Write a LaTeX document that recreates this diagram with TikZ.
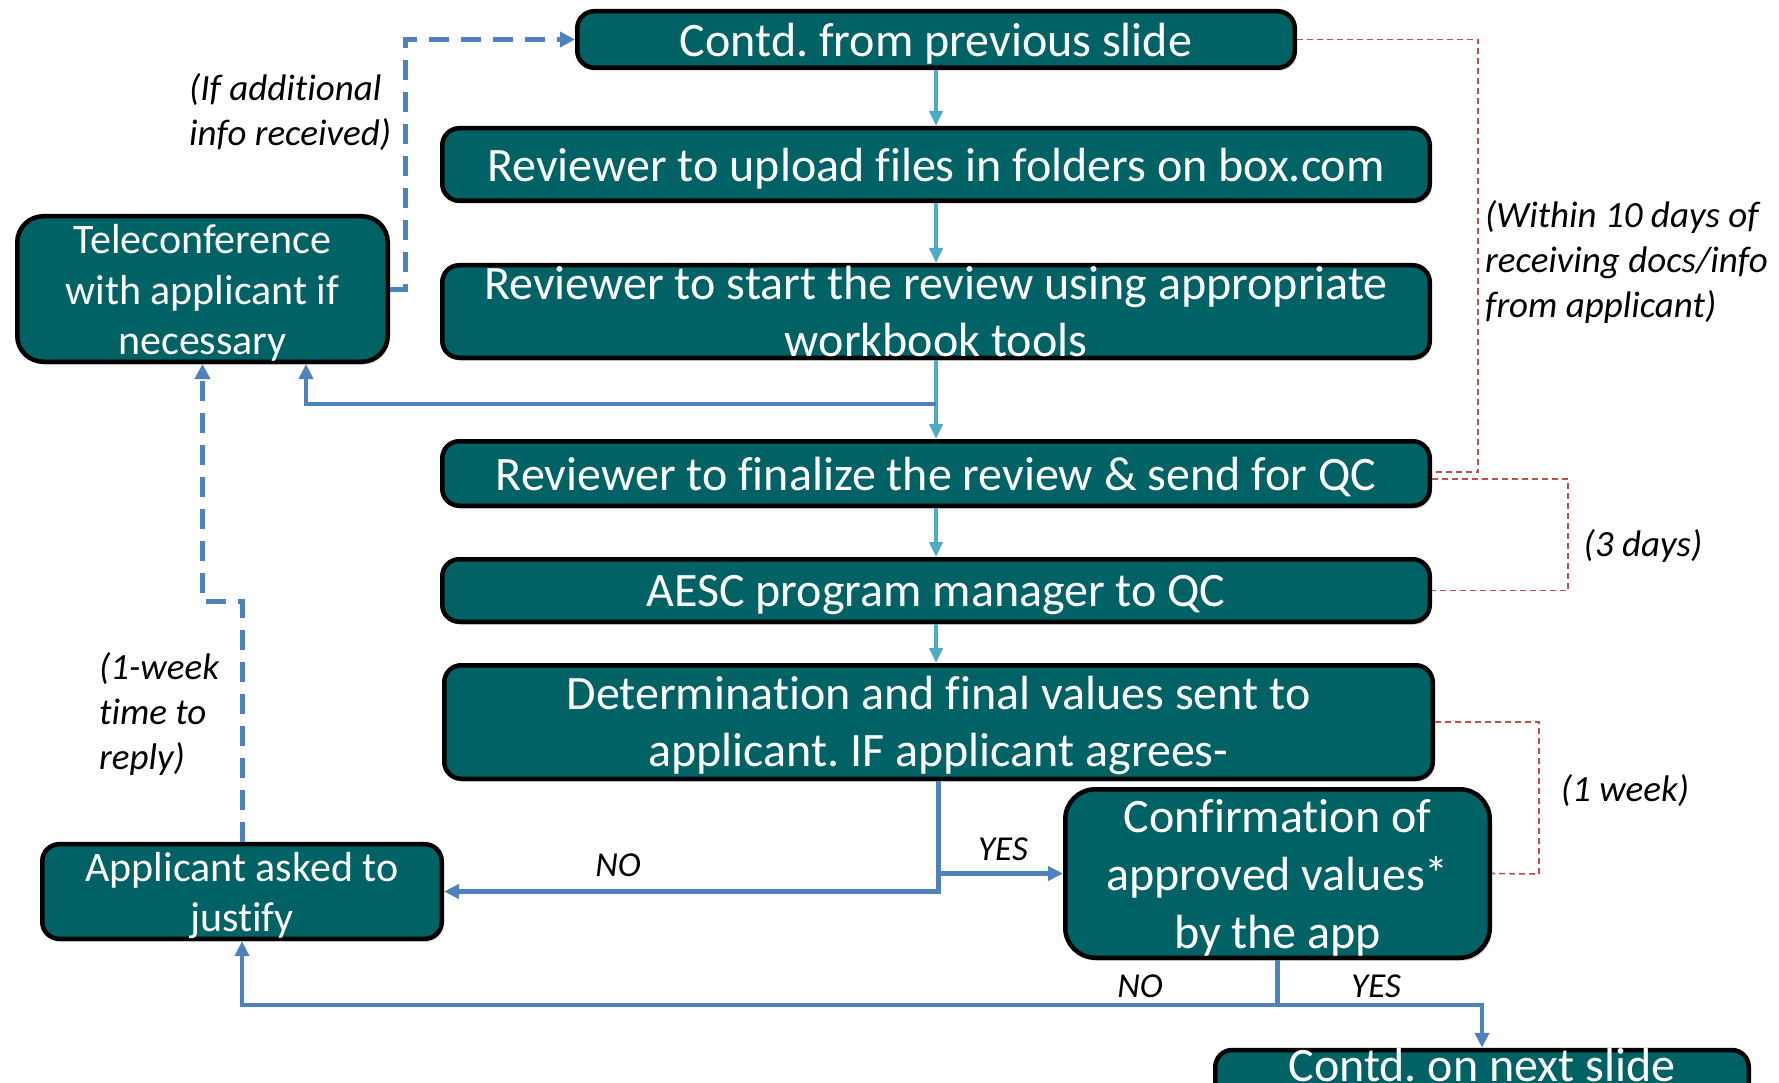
\documentclass[tikz,border=0pt]{standalone}
\usepackage{fontspec}
\setmainfont{Carlito}[Ligatures={NoCommon}]
\usetikzlibrary{arrows.meta,shadows}

\definecolor{boxteal}{RGB}{0,98,101}
\definecolor{flowteal}{RGB}{75,172,198}
\definecolor{flowblue}{RGB}{79,129,189}
\definecolor{noteRed}{RGB}{192,80,77}

% invisible struts that give the first line of a box a fixed height
\newcommand\lineBig{\rule{0pt}{41pt}}
\newcommand\lineMid{\rule{0pt}{37pt}}

\begin{document}
\frenchspacing
\begin{tikzpicture}[x=1pt,y=-1pt,
  stepbox/.style={draw=black, line width=4.5pt, fill=boxteal, rounded corners=17pt,
    text=white, align=center, inner sep=0pt,
    font=\fontsize{48}{57}\selectfont,
    drop shadow={shadow xshift=2pt,shadow yshift=-3pt,opacity=.3}},
  sidebox/.style={stepbox, rounded corners=26pt, font=\fontsize{42}{50.5}\selectfont},
  boxtext/.style={text=white, inner sep=0pt, font=\fontsize{48}{57}\selectfont},
  tealarrow/.style={draw=flowteal, line width=3.8pt, -{Triangle[length=15pt,width=13pt]}},
  bluearrow/.style={draw=flowblue, line width=4.3pt, -{Triangle[length=15pt,width=14pt]}},
  dasharrow/.style={draw=flowblue, line width=5pt, dash pattern=on 20pt off 12pt,
    -{Triangle[length=15pt,width=15pt]}},
  reddash/.style={draw=noteRed, line width=1.6pt, dash pattern=on 6pt off 4pt},
  note/.style={inner sep=0pt, align=left, font=\itshape\fontsize{37}{45}\selectfont},
  answer/.style={inner sep=0pt, font=\itshape\fontsize{35}{40}\selectfont}]

\fill[white] (0,0) rectangle (1779,1083);
\useasboundingbox (0,0) rectangle (1779,1083);

% main column of steps
\node[stepbox, minimum width=717.5pt, minimum height=56.5pt] (b1) at (936,39.5) {\lineBig Contd. from previous slide};
\node[stepbox, minimum width=987.5pt, minimum height=72.5pt] (b2) at (936,164.5) {\lineBig Reviewer to upload files in folders on box.com};
\node[stepbox, minimum width=987.5pt, minimum height=92.5pt] (b3) at (936,311.5) {Reviewer to start the review using appropriate\\workbook tools};
\node[stepbox, minimum width=987.5pt, minimum height=64.5pt] (b4) at (936,473.5) {\lineBig Reviewer to finalize the review \& send for QC};
\node[stepbox, minimum width=987.5pt, minimum height=62.5pt] (b5) at (936,590.5) {\lineBig AESC program manager to QC};
\node[stepbox, minimum width=988.5pt, minimum height=113.5pt] (b6) at (938.5,722) {\lineBig Determination and final values sent to\\applicant. IF applicant agrees-};
\node[stepbox, rounded corners=30pt, font=\fontsize{48}{58}\selectfont, minimum width=424.5pt, minimum height=168.5pt] (b7) at (1277.5,873.5) {\lineBig Confirmation of\\approved values*\\by the app};
\node[stepbox, minimum width=533.5pt, minimum height=80pt] (b8) at (1482,1090) {};
\node[boxtext, anchor=base] (b8t) at (1482,1081) {Contd. on next slide};

% side boxes
\node[sidebox, minimum width=370.5pt, minimum height=145.5pt] (T) at (202.5,289) {\lineMid Teleconference\\with applicant if\\necessary};
\node[sidebox, rounded corners=17pt, minimum width=399.5pt, minimum height=88.5pt] (A) at (242,891.5) {\lineMid Applicant asked to\\justify};

% main flow
\draw[tealarrow] (b1.south) -- (b2.north);
\draw[tealarrow] (b2.south) -- (b3.north);
\draw[tealarrow] (b3.south) -- (b4.north);
\draw[tealarrow] (b4.south) -- (b5.north);
\draw[tealarrow] (b5.south) -- (b5.south |- b6.north);

% branch to the teleconference
\coordinate (split3) at (936,404);
\draw[bluearrow] (split3) -| ([xshift=103.5pt]T.south);

% dashed returns
\draw[dasharrow] (T.east) -- (405,289) |- (b1.west);
\draw[dasharrow] (A.north) -- ++(0,-240) -| (T.south);

% decision after the determination
\draw[bluearrow] (b6.south) |- (A.east);
\draw[bluearrow] (b6.south |- b7.west) -- (b7.west);
\node[answer] (yes1) at (1003,849) {YES};
\node[answer] (no1) at (618,865) {NO};

% decision after the confirmation
\coordinate (split7) at (1277.5,1005);
\draw[bluearrow] (b7.south) -- (split7) -| (A.south);
\draw[bluearrow] (split7) -| (b8.north);
\node[answer] (no2) at (1140,986) {NO};
\node[answer] (yes2) at (1376,986) {YES};

% time brackets
\draw[reddash] (b1.east) -| (1478,472) -- (b4.east |- 0,472);
\draw[reddash] (b4.east |- 0,479) -| (1568,590.5) -- (b5.east);
\draw[reddash] (b6.east) -| (1539,874) -- (b7.east);

% notes
\node[note, anchor=west] (n10) at (1485,262) {(Within 10 days of\\receiving docs/info\\from applicant)};
\node[note] (n3) at (1643,546) {(3 days)};
\node[note] (n1w) at (1625,791) {(1 week)};
\node[note, anchor=west] (ninfo) at (189,112) {(If additional\\info received)};
\node[note, anchor=west] (nreply) at (99,714) {(1-week\\time to\\reply)};
\end{tikzpicture}
\end{document}
